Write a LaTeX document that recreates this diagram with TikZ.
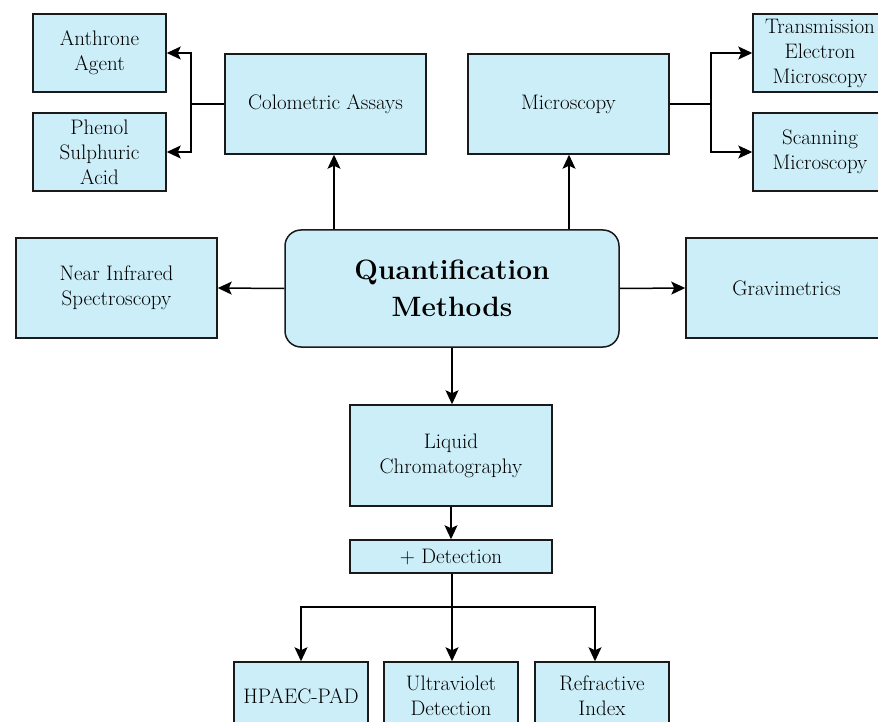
\documentclass[tikz,border=0pt]{standalone}
\usepackage{fontspec}
\usetikzlibrary{arrows.meta}
\definecolor{boxfill}{HTML}{CCEEF8}
\definecolor{edge}{HTML}{1A1A1A}
\begin{document}
\begin{tikzpicture}[x=1pt,y=-1pt,
 box/.style={draw=edge, line width=1.5pt, fill=boxfill, align=center, inner sep=0pt, font=\fontsize{21}{25}\selectfont},
 arr/.style={draw=black, line width=1.5pt, -{Stealth[length=14pt,width=13pt,inset=3pt]}},
 ln/.style={draw=black, line width=1.5pt}]
\useasboundingbox (0,0) rectangle (878,722);
\clip (0,0) rectangle (878,722);
% nodes
\node[box, minimum width=133pt, minimum height=78pt] (anth) at (99.5,53) {Anthrone\\Agent};
\node[box, minimum width=133pt, minimum height=78pt] (phen) at (99.5,152) {Phenol\\Sulphuric\\Acid};
\node[box, minimum width=201pt, minimum height=100pt] (col) at (325.5,104) {Colometric Assays};
\node[box, minimum width=201pt, minimum height=100pt] (mic) at (568.5,104) {Microscopy};
\node[box, minimum width=134pt, minimum height=78pt] (tem) at (820,53) {Transmission\\Electron\\Microscopy};
\node[box, minimum width=134pt, minimum height=78pt] (sem) at (820,152) {Scanning\\Microscopy};
\node[box, minimum width=201pt, minimum height=100pt] (nir) at (116.5,288) {Near Infrared\\Spectroscopy};
\node[box, minimum width=334pt, minimum height=117pt, rounded corners=16pt,
      font=\bfseries\fontsize{28}{37}\selectfont] (quant) at (452,288.5) {Quantification\\Methods};
\node[box, minimum width=201pt, minimum height=100pt] (grav) at (786.5,288) {Gravimetrics};
\node[box, minimum width=202pt, minimum height=101pt] (lc) at (451,455.5) {Liquid\\Chromatography};
\node[box, minimum width=202pt, minimum height=33pt] (det) at (451,556.5) {+ Detection};
\node[box, minimum width=134pt, minimum height=68pt] (hp) at (301,696) {HPAEC-PAD};
\node[box, minimum width=134pt, minimum height=68pt] (uv) at (451,696) {Ultraviolet\\Detection};
\node[box, minimum width=134pt, minimum height=68pt] (ri) at (602,696) {Refractive\\Index};
% helper coordinates
\coordinate (cb) at (191,104);
\coordinate (mb) at (711,104);
\coordinate (qc) at (334,0);
\coordinate (qm) at (569,0);
\coordinate (db) at (452,607);
\coordinate (rx) at (595,0);
% connectors
\draw[ln] (col.west) -- (cb);
\draw[arr] (cb) |- (anth.east);
\draw[arr] (cb) |- (phen.east);
\draw[ln] (mic.east) -- (mb);
\draw[arr] (mb) |- (tem.west);
\draw[arr] (mb) |- (sem.west);
\draw[arr] (quant.north -| qc) -- (col.south -| qc);
\draw[arr] (quant.north -| qm) -- (mic.south -| qm);
\draw[arr] (quant.west) -- (nir.east);
\draw[arr] (quant.east) -- (grav.west);
\draw[arr] (quant.south) -- (lc.north -| quant.south);
\draw[arr] (lc.south) -- (det.north);
\draw[ln] (det.south -| db) -- (db);
\draw[arr] (db) -| (hp.north);
\draw[arr] (db) -- (uv.north -| db);
\draw[arr] (db) -| (ri.north -| rx);
\end{tikzpicture}
\end{document}
